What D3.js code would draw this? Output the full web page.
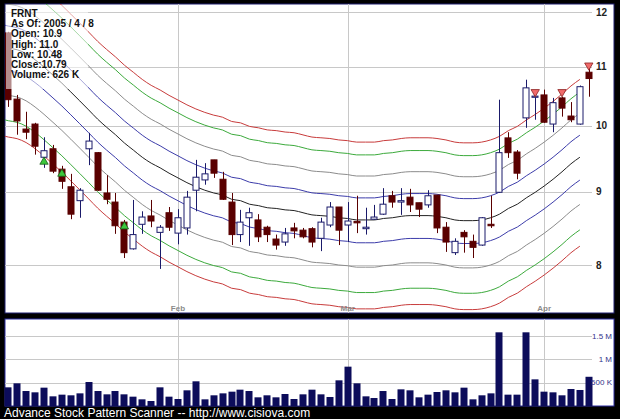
<!DOCTYPE html>
<html><head><meta charset="utf-8">
<script src="https://cdn.jsdelivr.net/npm/d3@7"></script>
<style>body{margin:0;background:#000;}svg{display:block}</style>
</head><body>
<svg id="c" width="620" height="419"></svg>
<script>
// ---------------- data ----------------
const dates = ["01-04","01-05","01-06","01-07","01-10","01-11","01-12","01-13","01-14","01-18","01-19","01-20","01-21","01-24","01-25","01-26","01-27","01-28","01-31",
"02-01","02-02","02-03","02-04","02-07","02-08","02-09","02-10","02-11","02-14","02-15","02-16","02-17","02-18","02-22","02-23","02-24","02-25","02-28",
"03-01","03-02","03-03","03-04","03-07","03-08","03-09","03-10","03-11","03-14","03-15","03-16","03-17","03-18","03-21","03-22","03-23","03-24","03-28","03-29","03-30","03-31",
"04-01","04-04","04-05","04-06","04-07","04-08"];
const openP  = [11.61,10.44,9.95,10.03,9.51,9.64,9.33,9.07,8.87,9.64,9.58,8.98,8.85,8.57,8.21,8.54,8.655,8.43,8.70,8.42,8.49,9.02,9.17,9.47,9.18,8.85,8.40,8.63,8.60,8.50,8.34,8.30,8.49,8.46,8.48,8.35,8.53,8.78,8.53,8.58,8.48,8.61,8.68,8.94,8.85,8.92,8.84,8.81,8.95,8.50,8.16,8.43,8.31,8.26,8.54,8.99,9.81,9.59,10.13,10.47,10.51,10.03,10.46,10.16,10.03,10.90];
const highP  = [11.63,10.51,10.23,10.05,9.82,9.70,9.38,9.26,9.05,9.89,9.59,9.24,8.98,8.60,8.88,8.72,8.88,8.53,8.78,8.75,9.01,9.47,9.42,9.47,9.29,8.98,8.74,8.77,8.68,8.52,8.40,8.49,8.56,8.49,8.50,8.63,8.85,8.78,8.85,8.94,8.77,8.81,9.05,9.01,9.05,9.04,8.84,9.02,8.95,8.57,8.35,8.46,8.40,8.64,8.94,10.43,9.90,9.62,10.77,10.50,10.60,10.46,10.48,10.39,10.67,11.00];
const lowP   = [10.31,9.86,9.79,9.55,9.35,9.27,9.04,8.61,8.63,9.39,9.01,8.82,8.41,8.09,8.20,8.41,8.50,7.95,8.45,8.27,8.40,8.72,9.10,9.20,8.88,8.26,8.30,8.25,8.30,8.30,8.20,8.25,8.35,8.35,8.23,8.18,8.50,8.26,8.30,8.42,8.40,8.60,8.67,8.77,8.67,8.71,8.64,8.77,8.42,8.17,8.13,8.16,8.09,8.25,8.49,8.98,9.50,9.18,9.97,10.10,10.05,9.90,10.15,10.06,10.02,10.48];
const closeP = [10.43,10.08,9.90,9.68,9.61,9.30,9.15,8.68,9.02,9.76,9.02,8.89,8.52,8.16,8.40,8.64,8.585,8.50,8.50,8.63,8.92,9.21,9.26,9.27,8.89,8.40,8.57,8.70,8.37,8.40,8.26,8.41,8.45,8.37,8.30,8.57,8.78,8.46,8.585,8.56,8.50,8.64,8.82,8.85,8.87,8.81,8.75,8.94,8.49,8.30,8.31,8.37,8.23,8.63,8.52,9.58,9.58,9.27,10.63,10.49,10.06,10.38,10.29,10.10,10.65,10.79];
const volumeK = [400,486,321,293,393,207,243,229,271,514,321,250,321,250,200,143,107,400,200,150,336,529,143,229,271,307,350,321,186,229,186,257,150,250,350,250,193,550,843,486,207,171,321,150,357,336,186,243,300,336,293,393,143,229,271,1579,243,243,1579,571,307,293,229,364,343,626];
// centre line of the envelope, from the trading day before the first bar (index -1) to index 64
const centerStart = -1;
const centerLine = [11.37,11.33,11.30,11.23,11.12,10.99,10.85,10.71,10.56,10.41,10.26,10.11,9.98,9.86,9.73,9.62,9.51,9.42,9.35,9.27,9.20,9.13,9.07,9.02,8.98,8.95,8.89,8.87,8.82,8.80,8.77,8.76,8.74,8.73,8.70,8.67,8.66,8.65,8.63,8.62,8.60,8.60,8.60,8.62,8.63,8.65,8.66,8.66,8.66,8.65,8.63,8.60,8.59,8.59,8.60,8.63,8.68,8.76,8.82,8.91,8.99,9.08,9.18,9.29,9.41,9.51];
const bandFactors = [1.133,1.11,1.073,1.036,1,0.964,0.927,0.89,0.867];
const bandColors  = ["#c83c3c","#3caa3c","#8c8c8c","#3c3caa","#222222","#3c3caa","#8c8c8c","#3caa3c","#c83c3c"];
const buySignals  = [{i:4,p:9.44},{i:6,p:9.26},{i:13,p:8.51}];
const sellSignals = [{i:59,p:10.56},{i:62,p:10.56},{i:65,p:11.02}];
const priceTicks = [8,9,10,11,12];
const volTicks = [500000,1000000,1500000];
const volTickLabels = ["500 K","1 M","1.5 M"];
const monthTicks = [{d:"02-01",label:"Feb"},{d:"03-01",label:"Mar"},{d:"04-01",label:"Apr"}];
const infoLines = ["FRNT","As Of: 2005 / 4 / 8","Open: 10.9","High: 11.0","Low: 10.48","Close:10.79","Volume: 626 K"];
const footer = "Advance Stock Pattern Scanner -- http://www.cisiova.com";

// ---------------- layout ----------------
const svg = d3.select("#c");
const W = 620, H = 419;
const pP = {x0:5, x1:614, y0:4, y1:313};
const pV = {x0:5, x1:614, y0:319, y1:406};
const gridX1 = 592;

const x = d3.scaleLinear().domain([0, dates.length-1]).range([8.3, 588.8]);
const y = d3.scaleLog().domain([8,12]).range([265,12.3]);
const yv = d3.scaleLinear().domain([0,1500000]).range([406,336]);

svg.append("rect").attr("width",W).attr("height",H).attr("fill","#000");
svg.append("rect").attr("x",pP.x0).attr("y",pP.y0).attr("width",pP.x1-pP.x0).attr("height",pP.y1-pP.y0)
  .attr("fill","#fff").attr("stroke","#1e1e6e").attr("stroke-width",1);
svg.append("rect").attr("x",pV.x0).attr("y",pV.y0).attr("width",pV.x1-pV.x0).attr("height",pV.y1-pV.y0)
  .attr("fill","#fff").attr("stroke","#2c2ca0").attr("stroke-width",1);

const defs = svg.append("defs");
defs.append("clipPath").attr("id","cp").append("rect")
  .attr("x",pP.x0).attr("y",pP.y0).attr("width",pP.x1-pP.x0).attr("height",pP.y1-pP.y0);
defs.append("clipPath").attr("id","cv").append("rect")
  .attr("x",pV.x0).attr("y",pV.y0).attr("width",pV.x1-pV.x0).attr("height",pV.y1-pV.y0);

const gp = svg.append("g").attr("clip-path","url(#cp)");
const gv = svg.append("g").attr("clip-path","url(#cv)");

// grid
const gridCol = "#c8c8c8";
const mx = d => Math.round(x(dates.indexOf(d.d)))+0.5;
gp.selectAll("line.hg").data(priceTicks).enter().append("line")
  .attr("x1",pP.x0).attr("x2",gridX1).attr("y1",d=>Math.round(y(d))+0.5).attr("y2",d=>Math.round(y(d))+0.5)
  .attr("stroke",gridCol);
gp.selectAll("line.vg").data(monthTicks).enter().append("line")
  .attr("x1",mx).attr("x2",mx).attr("y1",pP.y0).attr("y2",pP.y1).attr("stroke",gridCol);
gv.selectAll("line.hg").data(volTicks).enter().append("line")
  .attr("x1",pV.x0).attr("x2",gridX1).attr("y1",d=>Math.round(yv(d))+0.5).attr("y2",d=>Math.round(yv(d))+0.5)
  .attr("stroke",gridCol);
gv.selectAll("line.vg").data(monthTicks).enter().append("line")
  .attr("x1",mx).attr("x2",mx).attr("y1",pV.y0).attr("y2",pV.y1).attr("stroke",gridCol);

// axis labels
svg.selectAll("text.pt").data(priceTicks).enter().append("text")
  .attr("x",596).attr("y",d=>y(d)).attr("dy","0.35em")
  .attr("font-family","Liberation Sans, Arial, sans-serif").attr("font-size",10).attr("font-weight","bold")
  .attr("fill","#222").text(d=>d);
svg.selectAll("text.mt").data(monthTicks).enter().append("text")
  .attr("x",d=>x(dates.indexOf(d.d))).attr("y",311).attr("text-anchor","middle")
  .attr("font-family","Liberation Sans, Arial, sans-serif").attr("font-size",8).attr("font-weight","bold")
  .attr("fill","#8a8a8a").text(d=>d.label);
svg.selectAll("text.vt").data(volTicks).enter().append("text")
  .attr("x",612).attr("y",d=>yv(d)).attr("dy","0.35em").attr("text-anchor","end")
  .attr("font-family","Liberation Sans, Arial, sans-serif").attr("font-size",8)
  .attr("fill","#33338a").text((d,i)=>volTickLabels[i]);

// envelope lines
const centerPts = centerLine.map((v,k)=>({i:k+centerStart, v}));
bandFactors.forEach((f,bi)=>{
  const line = d3.line().x(d=>x(d.i)).y(d=>y(d.v*f)).curve(d3.curveMonotoneX);
  gp.append("path").datum(centerPts).attr("d",line).attr("fill","none")
    .attr("stroke",bandColors[bi]).attr("stroke-width",1);
});

// candles
const bars = dates.map((d,i)=>({i, o:openP[i], h:highP[i], l:lowP[i], c:closeP[i]}));
const upCol = "#1a1a6a", dnCol = "#5a0000";
const cw = 7;
const cg = gp.selectAll("g.c").data(bars).enter().append("g");
cg.append("line")
  .attr("x1",d=>Math.round(x(d.i))+0.5).attr("x2",d=>Math.round(x(d.i))+0.5)
  .attr("y1",d=>y(d.h)).attr("y2",d=>y(d.l))
  .attr("stroke",d=>d.c>=d.o?upCol:dnCol).attr("stroke-width",1);
cg.append("rect")
  .attr("x",d=>Math.round(x(d.i))-cw/2+0.5).attr("width",cw-1)
  .attr("y",d=>y(Math.max(d.o,d.c)))
  .attr("height",d=>Math.max(1,y(Math.min(d.o,d.c))-y(Math.max(d.o,d.c))))
  .attr("fill",d=>d.c>=d.o?"#fff":dnCol)
  .attr("stroke",d=>d.c>=d.o?upCol:dnCol).attr("stroke-width",1);

// signals
const tri = d3.symbol().type(d3.symbolTriangle).size(30);
gp.selectAll("path.buy").data(buySignals).enter().append("path")
  .attr("d",tri).attr("transform",d=>`translate(${x(d.i)},${y(d.p)})`)
  .attr("fill","#3cc83c").attr("stroke","#1a5a1a").attr("stroke-width",0.8);
gp.selectAll("path.sell").data(sellSignals).enter().append("path")
  .attr("d",tri).attr("transform",d=>`translate(${x(d.i)},${y(d.p)}) rotate(180)`)
  .attr("fill","#f06a6a").attr("stroke","#8a2020").attr("stroke-width",0.8);

// volume bars
gv.selectAll("rect.v").data(volumeK).enter().append("rect")
  .attr("x",(d,i)=>Math.round(x(i))-3.5).attr("width",7)
  .attr("y",d=>yv(d*1000)).attr("height",d=>yv(0)-yv(d*1000))
  .attr("fill","#0c0c5a");

// info box
svg.append("rect").attr("x",pP.x0+1).attr("y",pP.y0+1).attr("width",82).attr("height",84)
  .attr("fill","#fff").attr("opacity",0.55);
svg.selectAll("text.info").data(infoLines).enter().append("text")
  .attr("x",11).attr("y",(d,i)=>17+i*10.2)
  .attr("font-family","Liberation Sans, Arial, sans-serif").attr("font-size",10).attr("font-weight","bold")
  .attr("fill","#111").text(d=>d);

// footer
svg.append("text").attr("x",4).attr("y",417)
  .attr("font-family","Liberation Sans, Arial, sans-serif").attr("font-size",12)
  .attr("fill","#fff").text(footer);
</script>
</body></html>
